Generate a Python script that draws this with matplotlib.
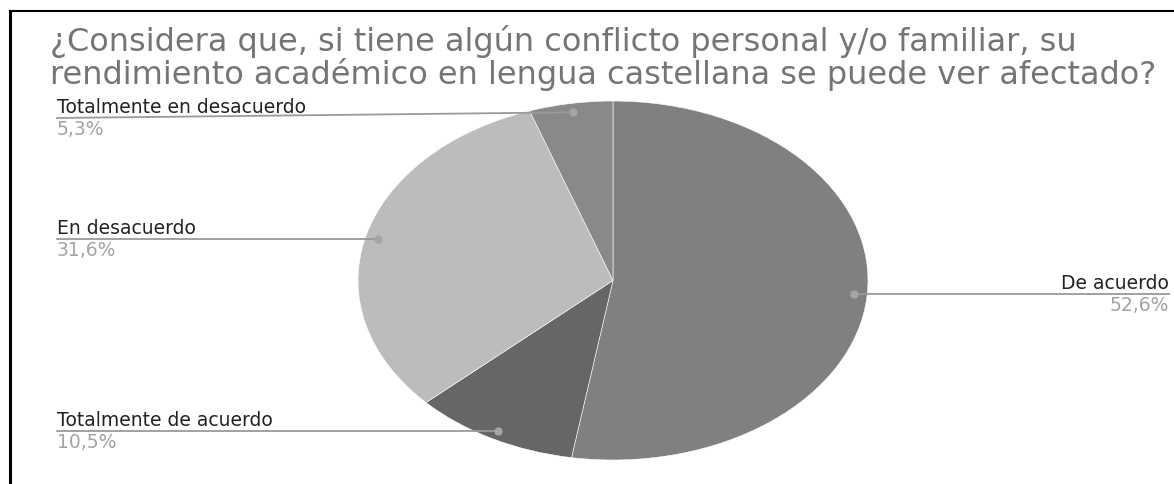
import matplotlib.pyplot as plt
from matplotlib.lines import Line2D
import matplotlib.transforms as mtransforms
import numpy as np

# datos del gráfico
categorias = ['De acuerdo', 'Totalmente de acuerdo', 'En desacuerdo', 'Totalmente en desacuerdo']
porcentajes = [52.6, 10.5, 31.6, 5.3]
etiquetas_pct = ['52,6%', '10,5%', '31,6%', '5,3%']
colores = ['#808080', '#666666', '#bcbcbc', '#898989']
titulo = ['¿Considera que, si tiene algún conflicto personal y/o familiar, su',
          'rendimiento académico en lengua castellana se puede ver afectado?']

W, H = 1174, 485
plt.rcParams['font.family'] = ['DejaVu Sans']

fig = plt.figure(figsize=(W / 100, H / 100), dpi=100)
# transform: pixels measured from the top-left corner
px = mtransforms.Affine2D().scale(1 / W, -1 / H).translate(0, 1) + fig.transFigure

# the chart in the picture is stretched horizontally -> elliptical pie
cx, cy, rx, ry = 613, 281.5, 255, 179.5
ax = fig.add_axes([(cx - rx) / W, (H - cy - ry) / H, 2 * rx / W, 2 * ry / H])
wedges, _ = ax.pie(porcentajes, colors=colores, startangle=90, counterclock=False,
                   wedgeprops=dict(edgecolor='white', linewidth=0.4))
ax.set_aspect('auto')
ax.set_xlim(-1, 1)
ax.set_ylim(-1, 1)
ax.axis('off')

# title (two lines, tight spacing)
fig.text(50, 51, titulo[0], transform=px, fontsize=23, color='#757575', va='baseline')
fig.text(50, 84, titulo[1], transform=px, fontsize=23, color='#757575', va='baseline')

# label layout: (x of text, y of the line, alignment)
label_pos = [(1169, None, 'right'), (57, None, 'left'), (57, None, 'left'), (57, 119, 'left')]

for w, cat, pct, (lx, ly, ha) in zip(wedges, categorias, etiquetas_pct, label_pos):
    ang = np.deg2rad((w.theta1 + w.theta2) / 2)
    dx = cx + 0.95 * rx * np.cos(ang)
    dy = cy - 0.95 * ry * np.sin(ang)
    if ly is None:
        ly = dy
    fig.add_artist(Line2D([lx, dx], [ly, dy], transform=px, color='#9a9a9a', lw=1.3))
    fig.add_artist(Line2D([dx], [dy], transform=px, marker='o', ms=5, color='#a5a5a5', lw=0))
    fig.text(lx, ly - 2, cat, transform=px, fontsize=13.5, color='#222222', ha=ha, va='bottom')
    fig.text(lx, ly + 1, pct, transform=px, fontsize=13.5, color='#a3a3a3', ha=ha, va='top')

# black frame at top and left
fig.add_artist(Line2D([10, W], [12, 12], transform=px, color='black', lw=1.5))
fig.add_artist(Line2D([10, 10], [12, H], transform=px, color='black', lw=2.2))

fig.savefig('out.png', dpi=100, facecolor='white')
